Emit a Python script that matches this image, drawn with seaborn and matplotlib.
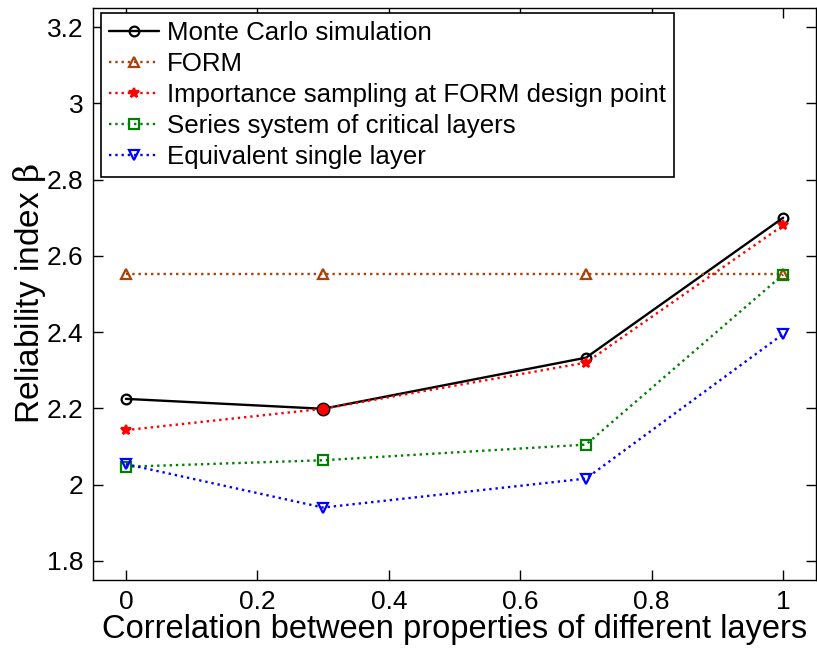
import matplotlib
matplotlib.use("Agg")
import matplotlib.pyplot as plt
import seaborn as sns
import pandas as pd

sns.set_theme(style="ticks")
plt.rcParams["font.family"] = ["Liberation Sans", "DejaVu Sans"]
plt.rcParams["mathtext.fontset"] = "custom"
plt.rcParams["mathtext.rm"] = "DejaVu Serif"
plt.rcParams["mathtext.it"] = "DejaVu Serif"
for key in ["text.color", "axes.labelcolor", "xtick.color", "ytick.color",
            "xtick.labelcolor", "ytick.labelcolor"]:
    plt.rcParams[key] = "black"

rho = [0.0, 0.3, 0.7, 1.0]
monte_carlo = [2.225, 2.199, 2.333, 2.700]
form = [2.552, 2.552, 2.552, 2.552]
importance = [2.143, 2.199, 2.320, 2.680]
series_sys = [2.047, 2.064, 2.105, 2.551]
equivalent = [2.054, 1.940, 2.016, 2.395]

labels = [
    "Monte Carlo simulation",
    "FORM",
    "Importance sampling at FORM design point",
    "Series system of critical layers",
    "Equivalent single layer",
]
values = [monte_carlo, form, importance, series_sys, equivalent]
styles = [
    dict(color="black", marker="o", linestyle="-", mfc="none"),
    dict(color="#A8420A", marker="^", linestyle=":", mfc="none"),
    dict(color="red", marker="*", linestyle=":", mfc="red"),
    dict(color="green", marker="s", linestyle=":", mfc="none"),
    dict(color="blue", marker="v", linestyle=":", mfc="none"),
]

fig = plt.figure(figsize=(8.17, 6.5), dpi=100)
ax = fig.add_axes([0.1138, 0.1077, 0.8850, 0.8800])

for lab, vals, st in zip(labels, values, styles):
    df = pd.DataFrame({"rho": rho, "beta": vals})
    sns.lineplot(
        data=df, x="rho", y="beta", ax=ax, label=lab,
        color=st["color"], linestyle=st["linestyle"], marker=st["marker"],
        markerfacecolor=st["mfc"], markeredgecolor=st["color"],
        markeredgewidth=1.6, markersize=7, linewidth=1.7,
    )

# filled marker where Monte Carlo and importance sampling coincide
ax.plot([0.3], [2.199], marker="o", color="red", markeredgecolor="black",
        markersize=9, linestyle="none", zorder=5)

ax.set_xlim(-0.05, 1.05)
ax.set_ylim(1.75, 3.25)
ax.set_xticks([0, 0.2, 0.4, 0.6, 0.8, 1])
ax.set_xticklabels(["0", "0.2", "0.4", "0.6", "0.8", "1"])
ax.set_yticks([1.8, 2.0, 2.2, 2.4, 2.6, 2.8, 3.0, 3.2])
ax.set_yticklabels(["1.8", "2", "2.2", "2.4", "2.6", "2.8", "3", "3.2"])
ax.tick_params(direction="in", length=7, width=1, labelsize=19, top=True, right=True, pad=7)
for sp in ax.spines.values():
    sp.set_color("black")
    sp.set_linewidth(1)
ax.set_xlabel("Correlation between properties of different layers", fontsize=23.5, labelpad=0)
ax.set_ylabel(r"Reliability index $\beta$", fontsize=24, labelpad=-1)

leg = ax.legend(loc="upper left", bbox_to_anchor=(0.011, 0.991), fontsize=18.6,
                frameon=True, fancybox=False, edgecolor="black", framealpha=1,
                handlelength=1.95, handletextpad=0.3, borderpad=0.3,
                labelspacing=0.27, borderaxespad=0)
leg.get_frame().set_linewidth(1.2)

fig.savefig("out.png", dpi=100)
